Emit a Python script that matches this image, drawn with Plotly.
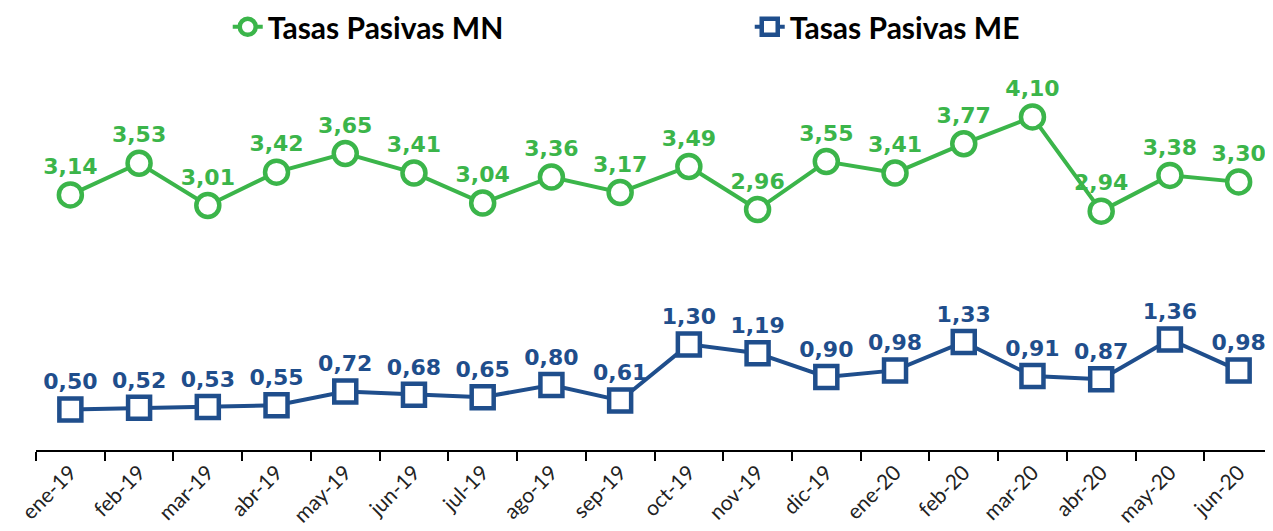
import plotly.graph_objects as go

categories = ["ene-19", "feb-19", "mar-19", "abr-19", "may-19", "jun-19", "jul-19", "ago-19", "sep-19",
              "oct-19", "nov-19", "dic-19", "ene-20", "feb-20", "mar-20", "abr-20", "may-20", "jun-20"]
tasas_mn = [3.14, 3.53, 3.01, 3.42, 3.65, 3.41, 3.04, 3.36, 3.17,
            3.49, 2.96, 3.55, 3.41, 3.77, 4.10, 2.94, 3.38, 3.30]
tasas_me = [0.50, 0.52, 0.53, 0.55, 0.72, 0.68, 0.65, 0.80, 0.61,
            1.30, 1.19, 0.90, 0.98, 1.33, 0.91, 0.87, 1.36, 0.98]

green = "#3BB54A"
blue = "#1F4E8C"

fig = go.Figure()
fig.add_trace(go.Scatter(
    x=categories, y=tasas_mn, name="Tasas Pasivas MN",
    mode="lines+markers+text",
    line=dict(color=green, width=4),
    marker=dict(symbol="circle", size=23, color="white", line=dict(color=green, width=4.5)),
    texttemplate="%{y:.2f}", textposition="top center",
    textfont=dict(family="DejaVu Sans", size=22, color=green, weight="bold"),
    cliponaxis=False,
))
fig.add_trace(go.Scatter(
    x=categories, y=tasas_me, name="Tasas Pasivas ME",
    mode="lines+markers+text",
    line=dict(color=blue, width=4),
    marker=dict(symbol="square", size=22, color="white", line=dict(color=blue, width=4.5)),
    texttemplate="%{y:.2f}", textposition="top center",
    textfont=dict(family="DejaVu Sans", size=22, color=blue, weight="bold"),
    cliponaxis=False,
))

fig.update_layout(
    width=1265, height=523,
    margin=dict(l=28, r=0, t=52, b=81),
    paper_bgcolor="white", plot_bgcolor="white",
    separators=",.",
    showlegend=True,
    legend=dict(orientation="h", x=0.155, xanchor="left", y=0.964, yanchor="middle",
                yref="container", entrywidth=477, entrywidthmode="pixels",
                font=dict(family="Lato", size=30, color="black", weight="bold")),
    xaxis=dict(type="category", range=[-0.5, 17.5], tickson="boundaries",
               showline=True, linecolor="black", linewidth=2, automargin=False,
               ticks="outside", ticklen=9, tickwidth=2, tickcolor="black",
               tickangle=-45, showgrid=False, zeroline=False,
               tickfont=dict(family="Lato", size=21, color="#222222")),
    yaxis=dict(range=[0, 4.8], visible=False, showgrid=False, zeroline=False),
)

fig.write_html("out.html")
